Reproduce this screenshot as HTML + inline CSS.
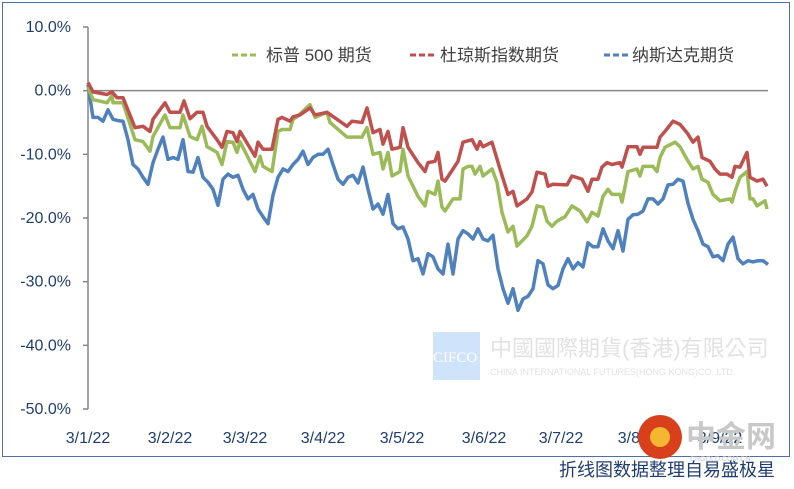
<!DOCTYPE html>
<html><head><meta charset="utf-8"><style>
body{margin:0;background:#fff;width:794px;height:489px;overflow:hidden;position:relative;font-family:"Liberation Sans","Noto Sans CJK SC",sans-serif}
svg{position:absolute;left:0;top:0}
</style></head><body>
<svg id="chart" width="794" height="489" xmlns="http://www.w3.org/2000/svg">
<rect x="2.5" y="2.5" width="787" height="454" fill="#fff" stroke="#4f6fa8" stroke-width="1"/>
<g>
<rect x="433" y="332" width="47" height="48" fill="#cfe3fb"/>
<text x="433" y="362" font-family="Liberation Serif,serif" font-size="15" fill="#fff">CIFCO</text>
<text x="490" y="356" font-size="22" fill="#e2e2e2" font-family="Liberation Sans,'Noto Sans CJK TC',sans-serif">中國國際期貨(香港)有限公司</text>
<text x="490" y="375" font-size="9" fill="#e2e2e2">CHINA INTERNATIONAL FUTURES(HONG KONG)CO.,LTD.</text>
</g>
<g id="axes"></g>
<g id="series"></g>
<g font-size="17" fill="#404040">
<g><line x1="232" y1="55" x2="258" y2="55" stroke="#9bbb59" stroke-width="3" stroke-dasharray="6,3"/><text x="266" y="61">标普 500 期货</text></g>
<g><line x1="410" y1="55" x2="434" y2="55" stroke="#c0504d" stroke-width="3" stroke-dasharray="6,3"/><text x="440" y="61">杜琼斯指数期货</text></g>
<g><line x1="604" y1="55" x2="628" y2="55" stroke="#4f81bd" stroke-width="3" stroke-dasharray="6,3"/><text x="632" y="61">纳斯达克期货</text></g>
</g>
<g>
<circle cx="660" cy="437" r="22" fill="#d8401c"/>
<circle cx="660" cy="437" r="10" fill="#f5b731"/>
<text x="686" y="447" font-size="30" font-weight="bold" fill="#c8c8c8" font-family="Liberation Sans,'Noto Sans CJK SC',sans-serif">中金网</text>
<text x="690" y="461" font-size="7" fill="#c8c8c8">CNGOLD.COM.CN</text>
</g>
<text x="775" y="476" text-anchor="end" font-size="18" fill="#1f3d6e">折线图数据整理自易盛极星</text>
</svg>
<script>
const yTicks=[10,0,-10,-20,-30,-40,-50];
const xTickLabels=["3/1/22","3/2/22","3/3/22","3/4/22","3/5/22","3/6/22","3/7/22","3/8/22","3/9/22"];
const xTickDays=[0,20.5,39.25,58.75,78.5,99,118.25,138,158];
const spDays=[0,1.25,4.75,6,6.25,8.75,11.75,13.75,15.5,16.25,19.25,20.5,23,23.75,25.5,27.25,28.5,29.75,32.25,33.5,34.75,36.25,37.25,38,41.75,43,43.75,46,47.5,48.5,50.5,51.25,52.25,55.5,56.75,59.75,60.5,64.75,66,68.5,69.75,71.25,73,73.75,75,76,78,78.75,80,82.5,84.25,85,86.75,87.5,88.5,89.25,91.25,93,93.75,95,96,96.75,98,98.75,101,102.25,103.5,105,106.25,107.25,109.75,111,112.25,113.75,114.75,116,117.25,119.25,121,123,124.75,126,127.5,128.75,130,131,133,133.5,135,137.25,138,138.75,141.25,142.25,143,144.25,146.75,148,149.75,151.25,152.5,153.5,155,156.25,157.5,158,160.5,161,161.75,163,164.75,165.5,166.25,167.25,169.25,169.75];
const spVals=[0.6,-1.4,-1.9,-0.8,-1.9,-1.9,-7.7,-8.0,-9.5,-7.2,-3.8,-5.8,-5.8,-3.8,-7.2,-7.7,-5.6,-8.8,-9.7,-11.6,-8.0,-8.1,-9.7,-8.0,-12.7,-10.3,-11.9,-12.7,-6.4,-6.1,-6.1,-4.5,-4.1,-2.2,-4.2,-3.4,-5.0,-7.3,-7.3,-7.3,-5.8,-10.0,-9.7,-12.3,-9.7,-13.4,-12.7,-9.2,-13.4,-16.6,-18.1,-15.8,-16.3,-14.2,-18.3,-18.9,-17.0,-17.0,-12.3,-11.9,-11.9,-13.1,-11.9,-13.4,-12.3,-14.4,-19.1,-22.2,-21.3,-24.4,-22.8,-21.3,-18.1,-18.3,-20.5,-21.3,-20.5,-19.8,-18.1,-18.9,-20.6,-19.1,-19.7,-16.6,-15.5,-16.3,-16.3,-17.5,-12.7,-12.3,-13.4,-11.9,-11.9,-12.7,-10.5,-8.9,-8.1,-8.8,-10.8,-12.3,-11.9,-13.9,-14.4,-16.3,-17.0,-17.3,-17.0,-17.5,-15.8,-13.6,-12.7,-17.0,-17.0,-18.1,-17.3,-18.6];
const dowDays=[0,1.25,4.75,6,7.25,8.75,11.75,13.75,15.5,16.25,19.25,20.5,23,24,25.5,27.25,28.75,29.75,32.25,33.5,34.75,36.25,37.25,38,41.75,42.5,43.75,46,47.5,48.5,50.5,51.25,53,55.5,56.75,59.75,62.25,64.75,66,68.5,69.75,71.25,73,73.75,75,76,78,78.75,80,82.5,84.25,85,86.75,87.5,88.5,89.25,91.25,92.5,93.75,96,97.25,98,98.75,101,103,105,106.25,107.25,109.75,111,112.25,114.25,115,116.25,119.75,121,123.5,125,126,127.5,128.5,129.75,131,133,133.5,135,137.25,138,138.75,142.25,143,144.25,146.25,148,149.75,151.25,152.5,153.5,155.5,156.75,158,159.75,161,161.75,163,164.75,165.5,167.25,168.75,169.75];
const dowVals=[1.3,-0.2,-0.6,-0.2,-1.1,-1.1,-5.8,-5.6,-6.4,-4.5,-1.9,-3.4,-3.4,-1.6,-4.4,-3.4,-3.4,-5.6,-7.7,-8.9,-6.4,-6.6,-8.0,-6.4,-10.3,-8.1,-9.2,-9.2,-4.5,-4.2,-4.8,-4.1,-3.8,-2.7,-3.8,-3.4,-4.5,-5.6,-4.8,-5.0,-2.7,-6.6,-6.1,-8.4,-6.4,-9.2,-8.9,-5.8,-8.9,-11.3,-12.7,-11.3,-11.1,-9.7,-13.9,-14.2,-12.3,-11.1,-8.1,-7.7,-9.2,-8.0,-8.8,-8.1,-12.3,-16.3,-15.8,-18.1,-17.0,-15.9,-12.8,-13.1,-15.0,-14.7,-14.8,-13.4,-13.9,-15.8,-13.9,-13.9,-12.0,-11.3,-11.6,-11.3,-12.0,-8.8,-8.8,-10.0,-8.9,-8.9,-7.3,-6.4,-4.8,-5.3,-6.6,-8.1,-7.3,-10.5,-11.1,-12.3,-13.1,-13.1,-13.6,-11.9,-12.0,-9.7,-13.6,-14.2,-13.9,-15.0];
const ndqVals=[0.9,-4.2,-4.2,-4.8,-3.0,-4.5,-4.7,-4.8,-7.7,-11.6,-12.3,-13.6,-14.7,-11.3,-9.2,-7.3,-10.8,-10.5,-10.8,-7.7,-12.7,-12.8,-10.5,-13.6,-14.4,-15.5,-18.0,-13.9,-13.1,-13.6,-13.3,-15.5,-17.0,-16.3,-18.6,-19.8,-20.9,-16.4,-13.6,-12.3,-12.7,-11.6,-10.8,-9.5,-11.6,-10.5,-10.0,-10.0,-9.2,-11.6,-13.9,-14.7,-13.6,-13.3,-14.5,-12.0,-15.5,-18.6,-17.8,-19.4,-16.3,-20.9,-21.7,-21.4,-23.3,-26.7,-26.4,-28.8,-25.6,-26.1,-28.0,-28.8,-24.1,-28.8,-23.3,-22.0,-22.5,-23.3,-21.7,-23.3,-23.6,-22.7,-28.0,-31.1,-33.4,-31.1,-34.5,-32.7,-32.3,-31.1,-26.7,-27.2,-30.5,-31.1,-30.6,-28.0,-26.4,-28.0,-27.0,-27.7,-23.9,-24.5,-24.5,-21.7,-23.6,-24.8,-22.0,-25.2,-20.2,-19.5,-19.4,-18.9,-17.0,-17.0,-17.8,-17.0,-14.8,-14.7,-13.9,-14.2,-17.7,-20.2,-22.0,-24.1,-24.5,-26.1,-25.9,-26.7,-24.1,-23.0,-26.4,-27.2,-26.7,-26.9,-26.7,-26.7,-27.3];
const ndqDays=ndqVals.map((v,i)=>i*170/(ndqVals.length-1));

const NS="http://www.w3.org/2000/svg";
const X0=88,X1=768,Y0=27,Y1=409;
const xs=d=>X0+(X1-X0)*d/170;
const ys=v=>Y0+(Y1-Y0)*(10-v)/60;
function mk(tag,attrs,parent){const e=document.createElementNS(NS,tag);for(const k in attrs)e.setAttribute(k,attrs[k]);parent.appendChild(e);return e;}
const ax=document.getElementById('axes');
const yAxis=mk('line',{x1:X0,y1:Y0,x2:X0,y2:Y1,stroke:'#868686','stroke-width':1.5},ax);


const zero=mk('line',{x1:X0,y1:ys(0),x2:X1,y2:ys(0),stroke:'#868686','stroke-width':1.5},ax);


yTicks.forEach(t=>{
  const tk=mk('line',{x1:X0-5,y1:ys(t),x2:X0,y2:ys(t),stroke:'#868686','stroke-width':1.5},ax);
  
  
  const tx=mk('text',{x:71,y:ys(t)+5,'text-anchor':'end','font-size':16,fill:'#1f3d6e'},ax);
  tx.textContent=t.toFixed(1)+'%';
  
  
});
xTickLabels.forEach((l,i)=>{
  const tx=mk('text',{x:xs(xTickDays[i]),y:443,'text-anchor':'middle','font-size':16,fill:'#1f3d6e'},ax);
  tx.textContent=l;
  
  
});
const sg=document.getElementById('series');
function draw(days,vals,color,name){
  const p=mk('polyline',{points:days.map((d,i)=>xs(d).toFixed(1)+','+ys(vals[i]).toFixed(1)).join(' '),fill:'none',stroke:color,'stroke-width':3.5,'stroke-linejoin':'round'},sg);
  
  
}
draw(ndqDays,ndqVals,'#4f81bd','nasdaq-line');
draw(spDays,spVals,'#9bbb59','sp500-line');
draw(dowDays,dowVals,'#c0504d','dow-line');
</script>
</body></html>
